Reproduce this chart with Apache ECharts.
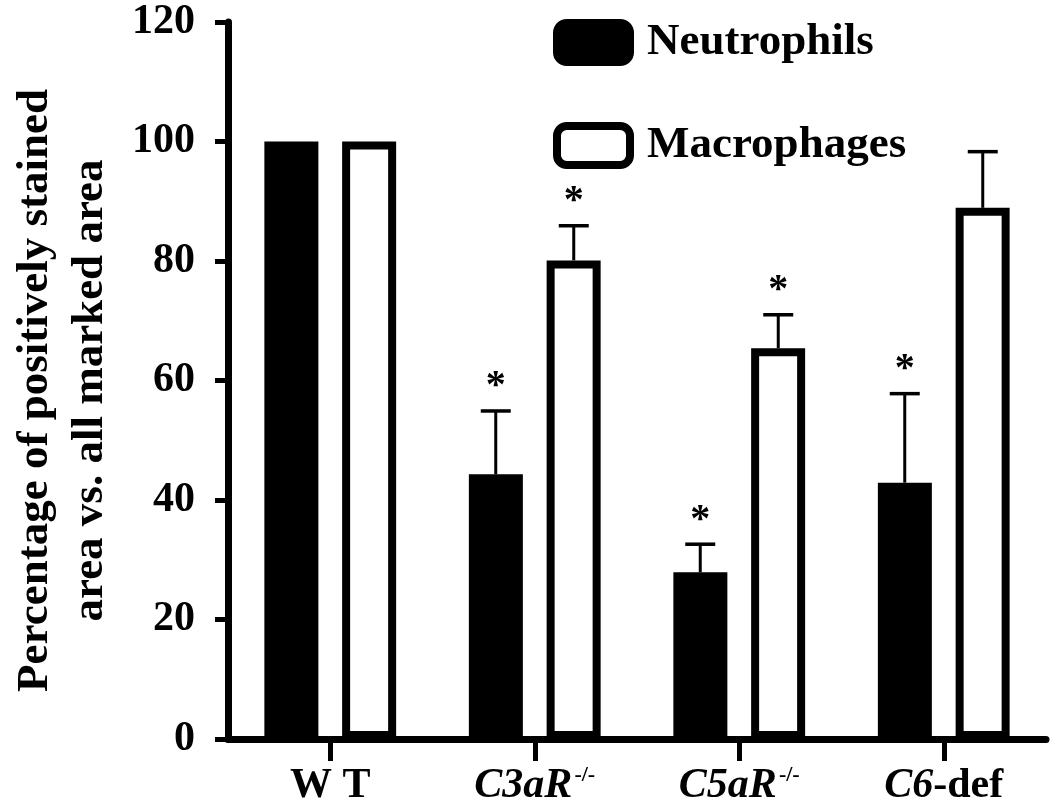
<!DOCTYPE html>
<html><head><meta charset="utf-8">
<script src="https://cdn.jsdelivr.net/npm/echarts@6/dist/echarts.min.js"></script>
<style>html,body{margin:0;padding:0;background:#fff}#c{width:1050px;height:807px}</style>
</head><body><div id="c"></div>
<script>
// ---- data ----
const categories = ['WT', 'C3aR', 'C5aR', 'C6-def'];
const neutrophils = [100, 44.3, 27.9, 42.9];
const macrophages = [100, 80.1, 65.4, 88.9];
const neutrophilsErr = [0, 10.6, 4.7, 14.9];
const macrophagesErr = [0, 5.8, 5.6, 9.4];
const neutrophilsStar = [0, 1, 1, 1];
const macrophagesStar = [0, 1, 1, 0];
const yMin = 0, yMax = 120, yStep = 20;
const seriesNames = ['Neutrophils', 'Macrophages'];
const yTitle = 'Percentage of positively stained\narea vs. all marked area';

// ---- style ----
const FONT = "'Liberation Serif', 'Times New Roman', serif";
const BAR_W = 54, BAR_GAP = '44%', BORDER = 8;
const OFFSET = 39;        // half distance between the two bar centres in a group
const CAP_HALF = 15;
const STAR_GAP = 24;

const labelFmt = {
  'WT': '{b|W T}',
  'C3aR': '{i|C3aR}{s|-/-}',
  'C5aR': '{i|C5aR}{s|-/-}',
  'C6-def': '{i|C6}{b|-def}'
};

function errData(vals, errs, stars) {
  return vals.map((v, i) => [i, v, errs[i], stars[i]]);
}
function makeErr(offset) {
  return function (params, api) {
    const c = api.value(0), v = api.value(1), e = api.value(2), s = api.value(3);
    const base = api.coord([c, v]);
    const top = api.coord([c, v + e]);
    const x = base[0] + offset;
    const children = [];
    if (e > 0) {
      children.push({type: 'line', shape: {x1: x, y1: base[1], x2: x, y2: top[1]}, style: {stroke: '#000', lineWidth: 3}});
      children.push({type: 'line', shape: {x1: x - CAP_HALF, y1: top[1], x2: x + CAP_HALF, y2: top[1]}, style: {stroke: '#000', lineWidth: 3.5}});
    }
    if (s) {
      children.push({type: 'text', x: x, y: top[1] - STAR_GAP,
        style: {text: '*', fill: '#000', fontFamily: FONT, fontWeight: 'bold', fontSize: 40, align: 'center', verticalAlign: 'middle'}});
    }
    return {type: 'group', children: children};
  };
}

const chart = echarts.init(document.getElementById('c'), null, {renderer: 'canvas'});
chart.setOption({
  animation: false,
  backgroundColor: '#fff',
  grid: {left: 218, right: 4, top: 22, bottom: 63, containLabel: false},
  legend: {
    orient: 'vertical', left: 553, top: 19, padding: 0,
    itemWidth: 73, itemHeight: 39, itemGap: 56, icon: 'roundRect',
    textStyle: {fontFamily: FONT, fontWeight: 'bold', fontSize: 45, color: '#000', lineHeight: 39, padding: [0, 0, 0, 12]},
    data: [
      {name: seriesNames[0], itemStyle: {color: '#000', borderColor: '#000', borderWidth: BORDER}},
      {name: seriesNames[1], itemStyle: {color: '#fff', borderColor: '#000', borderWidth: BORDER}}
    ]
  },
  xAxis: {
    type: 'category', data: categories,
    axisLine: {show: true, lineStyle: {color: '#000', width: 7}},
    axisTick: {show: true, alignWithLabel: true, length: 22, lineStyle: {color: '#000', width: 5}},
    axisLabel: {
      margin: 25, color: '#000',
      formatter: v => labelFmt[v],
      rich: {
        b: {fontFamily: FONT, fontWeight: 'bold', fontSize: 42, color: '#000', lineHeight: 44},
        i: {fontFamily: FONT, fontWeight: 'bold', fontStyle: 'italic', fontSize: 42, color: '#000', lineHeight: 44},
        s: {fontFamily: FONT, fontWeight: 'bold', fontSize: 22, color: '#000', lineHeight: 22, verticalAlign: 'top', padding: [0, 0, 0, 2]}
      }
    },
    splitLine: {show: false}
  },
  yAxis: {
    type: 'value', min: yMin, max: yMax, interval: yStep,
    name: yTitle, nameLocation: 'middle', nameRotate: 90, nameGap: 110,
    nameTextStyle: {fontFamily: FONT, fontWeight: 'bold', fontSize: 45, lineHeight: 55, color: '#000', padding: [0, 20, 0, 0]},
    axisLine: {show: true, lineStyle: {color: '#000', width: 7}},
    axisTick: {show: true, length: 13, lineStyle: {color: '#000', width: 5}},
    axisLabel: {margin: 33, fontFamily: FONT, fontWeight: 'bold', fontSize: 42, color: '#000'},
    splitLine: {show: false}
  },
  series: [
    {name: seriesNames[0], type: 'bar', data: neutrophils, barWidth: BAR_W, barGap: BAR_GAP,
      itemStyle: {color: '#000', borderColor: '#000', borderWidth: BORDER}},
    {name: seriesNames[1], type: 'bar', data: macrophages, barWidth: BAR_W, barGap: BAR_GAP,
      itemStyle: {color: '#fff', borderColor: '#000', borderWidth: BORDER}},
    {type: 'custom', renderItem: makeErr(-OFFSET), data: errData(neutrophils, neutrophilsErr, neutrophilsStar),
      encode: {x: 0, y: 1}, z: 5, silent: true},
    {type: 'custom', renderItem: makeErr(OFFSET), data: errData(macrophages, macrophagesErr, macrophagesStar),
      encode: {x: 0, y: 1}, z: 5, silent: true}
  ]
});
</script>
</body></html>
